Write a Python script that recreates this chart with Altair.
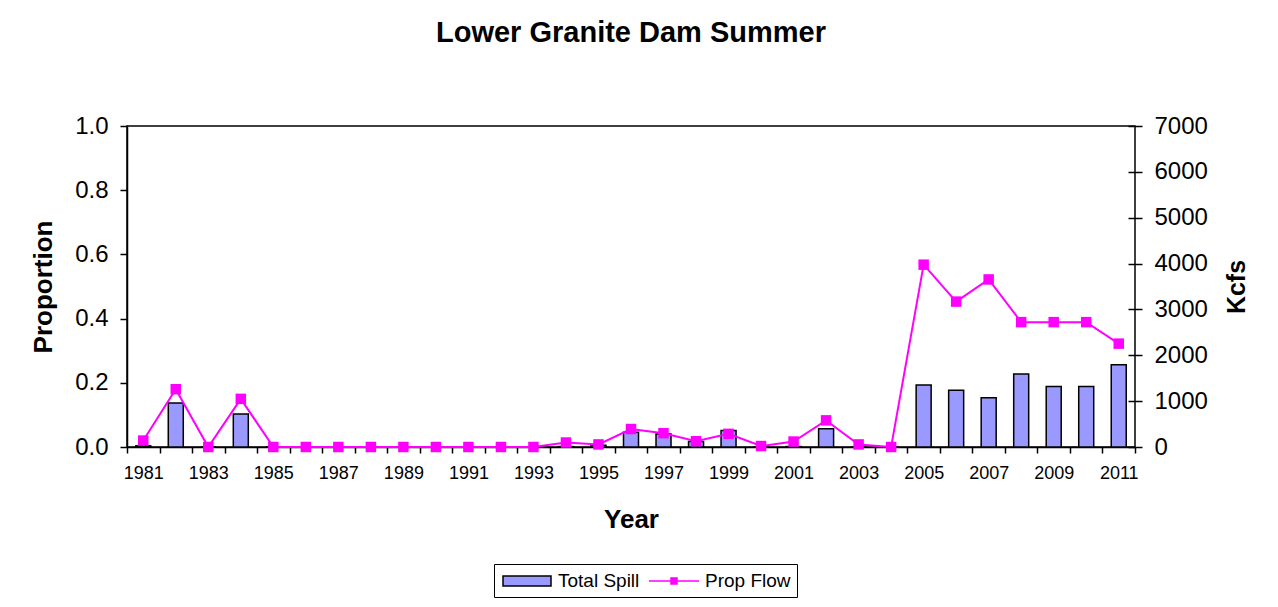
import altair as alt
import pandas as pd

years = list(range(1981, 2012))
prop_flow = [0.02, 0.18, 0.0, 0.15, 0.0, 0.0, 0.0, 0.0, 0.0, 0.0,
             0.0, 0.0, 0.0, 0.014, 0.008, 0.056, 0.043, 0.018, 0.041, 0.003,
             0.017, 0.083, 0.008, 0.0, 0.568, 0.453, 0.522, 0.389, 0.389, 0.389,
             0.322]
total_spill = [25, 960, 0, 720, 0, 0, 0, 0, 0, 0,
               0, 0, 0, 10, 40, 320, 285, 120, 360, 0,
               10, 400, 0, 0, 1350, 1235, 1075, 1590, 1320, 1320,
               1795]
prop_ticks = [0.0, 0.2, 0.4, 0.6, 0.8, 1.0]
kcfs_ticks = [0, 1000, 2000, 3000, 4000, 5000, 6000, 7000]
series_names = ["Total Spill", "Prop Flow"]
series_fill = ["#9999ff", "#ff00ff"]
series_stroke = ["black", "#ff00ff"]
series_symbols = ["M-2.4,-0.5H2.4V0.5H-2.4Z", "M-2.5,0H2.5M-0.3,-0.3H0.3V0.3H-0.3Z"]

df = pd.DataFrame({"year": years, "prop": prop_flow, "spill": total_spill})

FONT = "Liberation Sans"

legend = alt.Legend(
    orient="none", legendX=367, legendY=438, direction="horizontal",
    title=None, strokeColor="black", fillColor="white", padding=6,
    symbolSize=400, symbolStrokeWidth=1.5, symbolOpacity=1, symbolOffset=16,
    labelFontSize=19, labelFont=FONT, labelColor="black",
    columnPadding=6, labelOffset=20,
)

x_enc = alt.X(
    "year:O",
    scale=alt.Scale(paddingInner=0, paddingOuter=0),
    axis=alt.Axis(
        title="Year", labelAngle=0, tickBand="extent",
        labelExpr="datum.value % 2 == 1 ? datum.label : ''",
        labelOverlap=False, labelFontSize=18, tickSize=6, labelPadding=11,
        titleFontSize=26, titleFontWeight="bold", titlePadding=24,
    ),
)

bars = alt.Chart(df).mark_bar(
    size=15, fill="#9999ff", stroke="black", strokeWidth=1.5
).encode(
    x=x_enc,
    y=alt.Y("spill:Q", scale=alt.Scale(domain=[0, 7000], nice=False),
            axis=alt.Axis(orient="right", values=kcfs_ticks, format="d", title="Kcfs",
                          grid=False, domain=False, offset=-7,
                          labelFontSize=24, tickSize=14, labelPadding=12,
                          titleFontSize=25, titleFontWeight="bold", titlePadding=42,
                          titleAngle=270)),
)

line = alt.Chart(df).mark_line(
    strokeWidth=2, color="#ff00ff",
    point=alt.OverlayMarkDef(shape="square", size=110, filled=True, opacity=1, color="#ff00ff"),
).encode(
    x=x_enc,
    y=alt.Y("prop:Q", scale=alt.Scale(domain=[0, 1], nice=False),
            axis=alt.Axis(orient="left", values=prop_ticks, format=".1f", title="Proportion",
                          grid=False, labelFontSize=24, tickSize=7, labelPadding=12,
                          titleFontSize=26, titleFontWeight="bold", titlePadding=18)),
)

key = alt.Chart(df).transform_filter("false").transform_calculate(
    series="'Total Spill'"
).mark_point(filled=True, strokeWidth=1.5).encode(
    fill=alt.Fill("series:N", scale=alt.Scale(domain=series_names, range=series_fill), legend=legend),
    stroke=alt.Stroke("series:N", scale=alt.Scale(domain=series_names, range=series_stroke), legend=legend),
    shape=alt.Shape("series:N", scale=alt.Scale(domain=series_names, range=series_symbols), legend=legend),
)

chart = alt.layer(bars, line, key).resolve_scale(y="independent").properties(
    width=1008, height=321,
    autosize=alt.AutoSizeParams(type="none"),
    padding={"left": 119, "top": 118, "right": 135, "bottom": 152},
    title=alt.TitleParams("Lower Granite Dam Summer", fontSize=29, fontWeight="bold",
                          font=FONT, color="black", anchor="middle", offset=66),
).configure_view(stroke="black", strokeWidth=1.5).configure_axis(
    labelFont=FONT, titleFont=FONT, labelColor="black", titleColor="black",
    domainColor="black", tickColor="black", domainWidth=1.5, tickWidth=1.5,
)

chart.save("out.html", embed_options={"renderer": "svg", "actions": False})
